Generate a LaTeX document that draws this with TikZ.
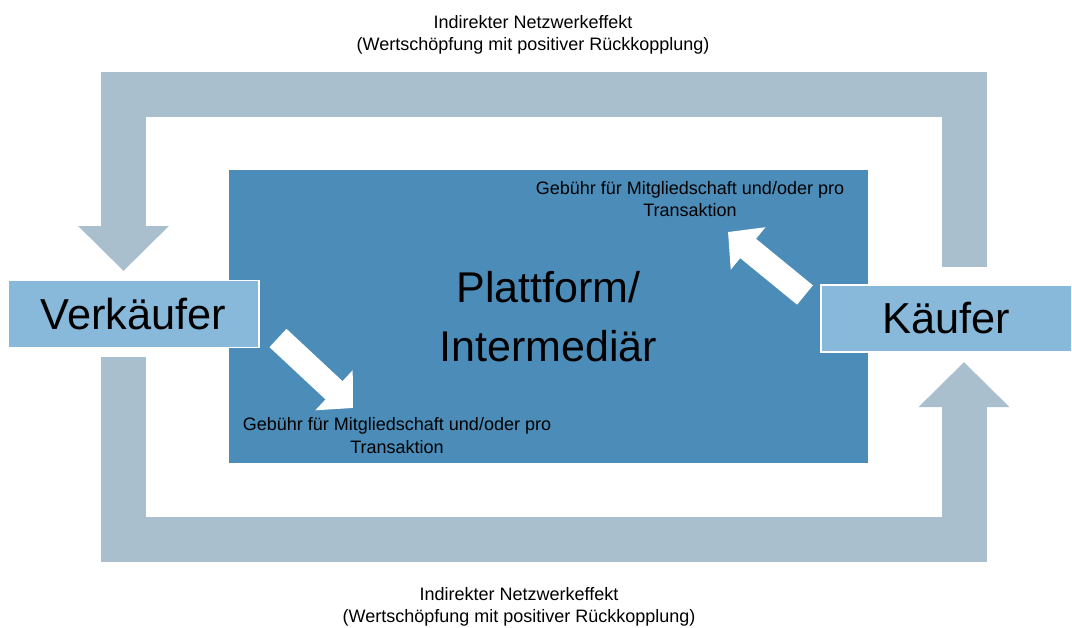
\documentclass[tikz,border=0pt]{standalone}
\usepackage{fontspec}
\setmainfont{Liberation Sans}
\usetikzlibrary{arrows.meta}

\definecolor{bandgrey}{HTML}{AABFCE}
\definecolor{platformblue}{HTML}{4B8CB8}
\definecolor{sideblue}{HTML}{88B8DA}

\begin{document}
\begin{tikzpicture}[x=0.75pt, y=-0.75pt,
			side/.style = {rectangle, fill=sideblue, draw=white, line width=1.1pt, inner sep=0pt, minimum width=188.25pt, minimum height=50.25pt, font=\fontsize{32.5}{39}\selectfont},
			platform/.style = {rectangle, fill=platformblue, inner sep=0pt, minimum width=479.25pt, minimum height=219.75pt, align=center, font=\fontsize{32.25}{44.25}\selectfont},
			fee/.style = {align=center, inner sep=0pt, font=\fontsize{13.5}{16.9}\selectfont},
			effect/.style = {align=center, inner sep=0pt, font=\fontsize{13.5}{17}\selectfont},
			band/.style = {draw=bandgrey, line width=33.75pt, -{Triangle[width=66pt, length=33.75pt]}},
			feearrow/.style = {draw=white, line width=18.75pt, -{Triangle[width=40pt, length=19.5pt]}}]

\useasboundingbox (0,0) rectangle (1072,628);

\node[platform] (platform) at (548.5, 316.5) {Plattform/\\Intermediär};

\node[side] (seller) at (133.5, 313.8) {Verkäufer};
\node[side] (buyer) at (946.5, 318.5) {Käufer};

\node[fee] (sellerfee) at (397, 435.3) {Gebühr für Mitgliedschaft und/oder pro\\Transaktion};
\node[fee] (buyerfee) at (690, 199) {Gebühr für Mitgliedschaft und/oder pro\\Transaktion};

\node[effect] (topeffect) at (533, 35) {Indirekter Netzwerkeffekt\\(Wertschöpfung mit positiver Rückkopplung)};
\node[effect] (boteffect) at (519, 607) {Indirekter Netzwerkeffekt\\(Wertschöpfung mit positiver Rückkopplung)};

% free ends of the big loops
\coordinate (topstart) at (964, 267);
\coordinate (topend) at (123.5, 271);
\coordinate (botstart) at (123.5, 357);
\coordinate (botend) at (964, 362);

\draw[band] (topstart) -- ++(0,-173) -| (topend);
\draw[band] (botstart) -- ++(0,182) -| (botend);

% fee arrows
\coordinate (sellertail) at (278, 338);
\coordinate (sellertip) at (353, 408);
\coordinate (buyertail) at (805, 295);
\coordinate (buyertip) at (728, 232);

\draw[feearrow] (sellertail) -- (sellertip);
\draw[feearrow] (buyertail) -- (buyertip);

\end{tikzpicture}
\end{document}
